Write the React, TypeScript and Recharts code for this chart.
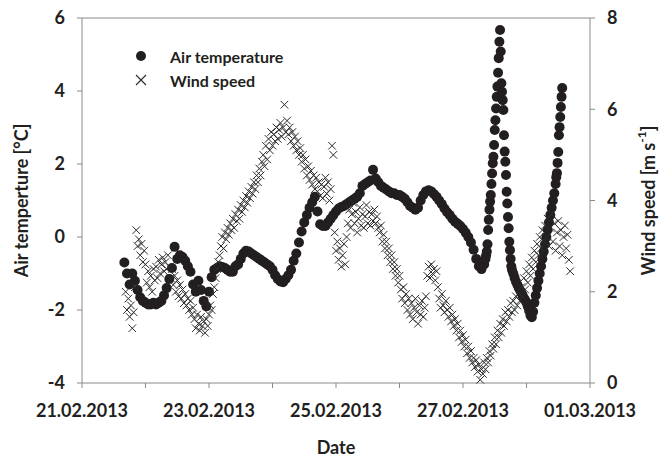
import React from "react";
import { ScatterChart, Scatter, XAxis, YAxis, Legend, ReferenceLine } from "recharts";

const FONT = "Lato, 'Open Sans', sans-serif";
const INK = "#231f20";
const AXIS = "#8a8a8a";
const CROSS = "#2b2b2b";

// x axis in hours after 21.02.2013 00:00
const xTicks = [0, 24, 48, 72, 96, 120, 144, 168, 192];
const xTickLabels = ["21.02.2013", "", "23.02.2013", "", "25.02.2013", "", "27.02.2013", "", "01.03.2013"];
const tempTicks = [-4, -2, 0, 2, 4, 6];
const windTicks = [0, 2, 4, 6, 8];

// air temperature, hourly from hour 16
const tempHourlyStart = 16;
const tempHourly = [
  -0.7, -1.0, -1.3, -1.0, -1.2, -1.45, -1.65, -1.75, -1.8, -1.85,
  -1.85, -1.8, -1.85, -1.8, -1.75, -1.6, -1.4, -1.15, -0.85, -0.27,
  -0.6, -0.5, -0.55, -0.65, -0.8, -0.95, -1.3, -1.5, -1.2, -1.45,
  -1.75, -1.9, -1.5, -1.1, -0.9, -0.85, -0.8, -0.82, -0.85, -0.9,
  -0.95, -0.95, -0.8, -0.75, -0.6, -0.45, -0.38, -0.4, -0.45, -0.5,
  -0.55, -0.6, -0.65, -0.7, -0.75, -0.8, -0.9, -1.05, -1.15, -1.22,
  -1.24, -1.15, -1.05, -0.9, -0.65, -0.45, -0.15, 0.15, 0.4, 0.6,
  0.8, 0.95, 1.1, 0.7, 0.35, 0.3, 0.3, 0.4, 0.5, 0.6,
  0.7, 0.78, 0.82, 0.85, 0.9, 0.95, 1.0, 1.05, 1.1, 1.2,
  1.4, 1.45, 1.5, 1.55, 1.84, 1.6, 1.5, 1.4, 1.35, 1.3,
  1.25, 1.2, 1.2, 1.15, 1.15, 1.1, 1.05, 0.95, 0.85, 0.8,
  0.75, 0.8, 1.0, 1.15, 1.25, 1.28, 1.25, 1.18, 1.1, 1.0,
  0.9, 0.78, 0.68, 0.6, 0.5, 0.42, 0.36, 0.3, 0.22, 0.12,
  0.0, -0.15, -0.35, -0.6, -0.8, -0.88, -0.75,
];
// the warm spike on 27.02, every 15 min
const tempSpikeStart = 152.5;
const tempSpike = [
  -0.6, -0.5, -0.4, -0.2, 0.19, 0.47, 0.75, 0.97, 1.15, 1.45,
  1.74, 2.02, 2.2, 2.52, 2.93, 3.2, 3.52, 3.84, 4.12, 4.5,
  4.9, 5.35, 5.67, 5.08, 4.21, 3.98, 3.75, 3.48, 2.79, 2.34,
  2.06, 1.7, 1.24, 0.92, 0.55, 0.24, -0.13, -0.36, -0.6, -0.8,
];
// every 30 min
const tempFallStart = 162.5;
const tempFall = [
  -0.9, -1.0, -1.12, -1.22, -1.3, -1.38, -1.45, -1.52, -1.6, -1.67,
  -1.73, -1.8, -1.9, -2.02, -2.15, -2.2, -2.05, -1.8, -1.6, -1.4,
  -1.2, -1.0, -0.8, -0.6, -0.4, -0.2, 0.0, 0.2, 0.4, 0.6,
  0.8, 1.0, 1.2, 1.45,
];
// every 15 min
const tempRiseStart = 179.25;
const tempRise = [1.64, 1.75, 2.03, 2.33, 2.79, 3.01, 3.29, 3.56, 3.84, 4.08];

// wind speed, every 30 min from hour 16.5
const windStart = 16.5;
const windSpeed = [
  2.0, 1.6, 1.85, 1.45, 1.7, 1.2, 1.55, 2.1,
  3.35, 3.0, 3.15, 2.8, 3.05, 2.65, 2.9, 2.6,
  2.2, 2.45, 2.1, 2.35, 2.0, 2.5, 2.25, 2.55, 2.3, 2.7, 2.4, 2.6, 2.75, 2.45, 2.65, 2.5, 2.8, 2.55,
  2.3, 2.5, 2.15, 2.35, 2.0, 2.25, 1.9, 2.15, 1.85, 2.05, 1.75, 1.95, 1.7, 1.85, 1.6, 1.8, 1.5, 1.65,
  1.4, 1.2, 1.5, 1.3, 1.15, 1.45, 1.25, 1.35, 1.1, 1.4, 1.25, 1.5,
  1.7, 1.6, 1.95, 2.1, 2.3, 2.5, 2.65, 2.8,
  3.0, 3.2, 2.95, 3.3, 3.15, 3.4, 3.25, 3.5, 3.35, 3.6, 3.4, 3.7, 3.55, 3.8, 3.6, 3.9,
  3.75, 4.0, 3.85, 4.1, 3.95, 4.2, 4.05, 4.3, 4.15, 4.4, 4.25, 4.55, 4.4, 4.7, 4.55, 4.85,
  5.0, 4.75, 5.2, 4.9, 5.35, 5.1, 5.5, 5.2, 5.45, 5.3, 5.6, 5.35, 5.55, 5.7, 5.4, 5.6,
  6.1, 5.5, 5.75, 5.45, 5.6, 5.3, 5.5, 5.2, 5.4, 5.1, 5.3, 5.0, 5.15, 4.85, 5.0,
  4.7, 4.9, 4.55, 4.75, 4.45, 4.65, 4.35, 4.55, 4.25, 4.5, 4.2, 4.4, 4.1, 4.35, 4.05, 4.3, 4.5, 4.15,
  4.4, 4.0, 4.25, 5.2, 5.0,
  3.3, 2.9, 3.1, 2.7, 2.95, 2.55, 2.8, 3.05, 2.6, 3.2,
  3.5, 3.8, 3.4, 3.7, 3.95, 3.5, 3.75, 3.3, 3.6, 3.85, 3.45, 3.7,
  3.4, 3.65, 3.9, 3.5, 3.75, 3.45, 3.7, 3.55, 3.8, 3.5, 3.65, 3.4,
  3.3, 3.45, 3.1, 3.25, 2.95, 3.1, 2.8, 2.95, 2.65, 2.8, 2.5, 2.65, 2.35, 2.5, 2.2, 2.35,
  2.05, 1.85, 2.1, 1.75, 1.95, 1.6, 1.85, 1.5, 1.75, 1.4, 1.65, 1.85, 1.55, 1.3, 1.7, 1.5, 1.8, 1.45, 1.65, 1.9,
  2.35, 2.55, 2.3, 2.6, 2.4, 2.5, 2.25, 2.45, 2.1,
  1.85, 1.65, 1.95, 1.7, 1.55, 1.8, 1.6,
  1.45, 1.65, 1.35, 1.5, 1.25, 1.4, 1.15, 1.3, 1.0, 1.15, 0.9, 1.05,
  0.8, 0.95, 0.65, 0.8, 0.55, 0.7, 0.45, 0.55, 0.35, 0.5, 0.25, 0.4,
  0.07,
  0.3, 0.2, 0.45, 0.3, 0.55, 0.45, 0.7, 0.6, 0.85, 0.75, 1.0, 0.85, 1.15, 1.0, 1.3,
  1.1, 1.4, 1.25, 1.55, 1.35, 1.6, 1.45, 1.75, 1.55, 1.8, 1.6, 1.9, 1.7, 1.95, 1.8,
  2.1, 1.9, 2.3, 2.05, 2.45, 2.2, 2.6, 2.35, 2.75, 2.5, 2.9, 2.65, 3.05, 2.8, 3.2, 2.95, 3.35, 3.1, 3.45,
  3.2, 3.6, 3.0, 3.4, 3.7, 3.1, 3.5, 2.9, 3.3, 3.55, 3.0, 3.35, 2.8, 3.2, 3.45, 2.95, 3.25, 2.7, 2.45,
];

const toPoints = (start: number, step: number, values: number[], key: string) =>
  values.map((v, i) => ({ h: start + i * step, [key]: v }));

const tempData = [
  ...toPoints(tempHourlyStart, 1, tempHourly, "t"),
  ...toPoints(tempSpikeStart, 0.25, tempSpike, "t"),
  ...toPoints(tempFallStart, 0.5, tempFall, "t"),
  ...toPoints(tempRiseStart, 0.25, tempRise, "t"),
];
const windData = toPoints(windStart, 0.5, windSpeed, "w");

const tickStyle = { fill: INK, fontSize: 18, fontWeight: 700, fontFamily: FONT };

function Dot(props: any) {
  return <circle cx={props.cx} cy={props.cy} r={5} fill={INK} />;
}

function Cross(props: any) {
  const { cx, cy } = props;
  const s = 3.8;
  return (
    <path
      d={`M${cx - s},${cy - s}L${cx + s},${cy + s}M${cx - s},${cy + s}L${cx + s},${cy - s}`}
      stroke={CROSS}
      strokeWidth={1}
      fill="none"
    />
  );
}

function LegendBox() {
  const row = { display: "flex", alignItems: "center", height: 24 };
  return (
    <div style={{ fontFamily: FONT, fontWeight: 700, fontSize: 16, color: INK }}>
      <div style={row}>
        <svg width={36} height={24}>
          <circle cx={7} cy={12} r={5} fill={INK} />
        </svg>
        <span>Air temperature</span>
      </div>
      <div style={row}>
        <svg width={36} height={24}>
          <path d="M2,7L12,17M2,17L12,7" stroke={CROSS} strokeWidth={1.1} fill="none" />
        </svg>
        <span>Wind speed</span>
      </div>
    </div>
  );
}

function TempTitle(props: any) {
  const vb = props.viewBox;
  const x = vb.x + 21;
  const y = vb.y + vb.height / 2;
  return (
    <text x={x} y={y} transform={`rotate(-90, ${x}, ${y})`} textAnchor="middle" dominantBaseline="central"
      fill={INK} fontSize={18} fontWeight={700} fontFamily={FONT}>
      Air temperture [°C]
    </text>
  );
}

function WindTitle(props: any) {
  const vb = props.viewBox;
  const x = vb.x + 58;
  const y = vb.y + vb.height / 2;
  return (
    <text x={x} y={y} transform={`rotate(-90, ${x}, ${y})`} textAnchor="middle" dominantBaseline="central"
      fill={INK} fontSize={18} fontWeight={700} fontFamily={FONT}>
      Wind speed [m s<tspan dy={-7} fontSize={12}>-1</tspan><tspan dy={7}>]</tspan>
    </text>
  );
}

function DateTitle(props: any) {
  const vb = props.viewBox;
  return (
    <text x={vb.x + vb.width / 2} y={vb.y + 71} textAnchor="middle"
      fill={INK} fontSize={18} fontWeight={700} fontFamily={FONT}>
      Date
    </text>
  );
}

export default function App() {
  return (
    <div style={{ width: 661, height: 457, background: "#fff" }}>
      <style>{"body{margin:0}"}</style>
      <ScatterChart width={661} height={457} margin={{ top: 18, right: 0, bottom: 0, left: 0 }}>
        <XAxis
          type="number"
          dataKey="h"
          domain={[0, 192]}
          ticks={xTicks}
          interval={0}
          tickFormatter={(v: number) => xTickLabels[xTicks.indexOf(v)] ?? ""}
          height={74}
          tick={tickStyle}
          tickSize={5}
          tickMargin={16}
          stroke={AXIS}
          label={{ content: DateTitle }}
        />
        <YAxis
          yAxisId="t"
          type="number"
          dataKey="t"
          domain={[-4, 6]}
          ticks={tempTicks}
          interval={0}
          width={82}
          tick={tickStyle}
          tickSize={5}
          tickMargin={12}
          stroke={AXIS}
          label={{ content: TempTitle }}
        />
        <YAxis
          yAxisId="w"
          orientation="right"
          type="number"
          dataKey="w"
          domain={[0, 8]}
          ticks={windTicks}
          interval={0}
          width={71}
          tick={tickStyle}
          tickSize={5}
          tickMargin={12}
          stroke={AXIS}
          label={{ content: WindTitle }}
        />
        <ReferenceLine yAxisId="t" y={6} stroke={AXIS} />
        <Scatter name="Air temperature" yAxisId="t" data={tempData} shape={Dot} isAnimationActive={false} />
        <Scatter name="Wind speed" yAxisId="w" data={windData} shape={Cross} isAnimationActive={false} />
        <Legend
          layout="horizontal"
          verticalAlign="middle"
          align="center"
          content={<LegendBox />}
          wrapperStyle={{ top: 44, left: 134, width: 240 }}
        />
      </ScatterChart>
    </div>
  );
}
